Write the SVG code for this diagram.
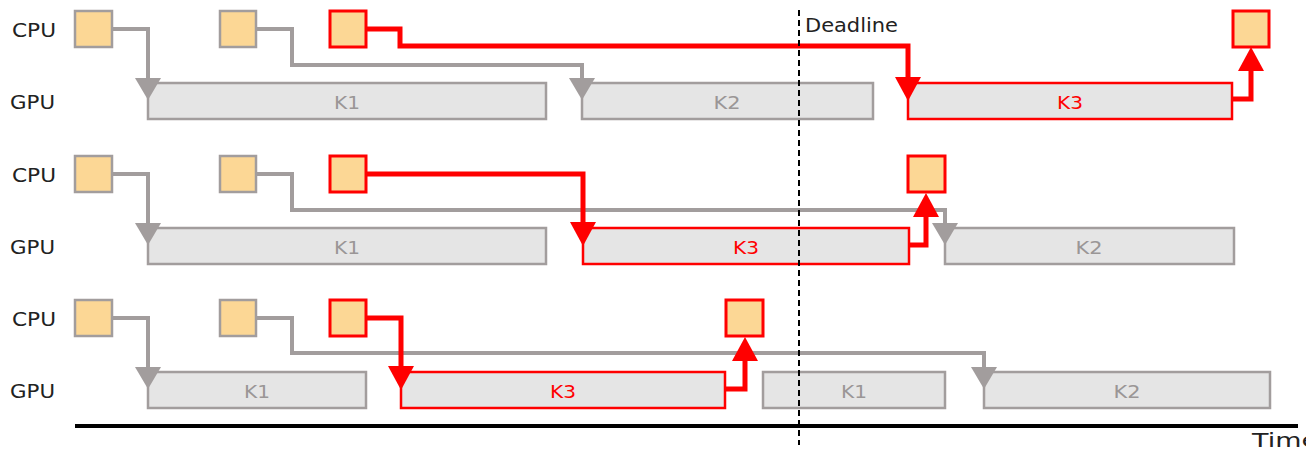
<svg xmlns="http://www.w3.org/2000/svg" width="1306" height="450" viewBox="0 0 1306 450">
<style>
text{font-family:"DejaVu Sans","Liberation Sans",sans-serif}
.lbl{font-size:19px;fill:#222}
.kt{font-size:18px;fill:#9a9696;text-anchor:middle}
.kr{font-size:18px;fill:#ff0000;text-anchor:middle}
.cpu{fill:#fcd795;stroke:#a29d9d;stroke-width:2.5}
.cpur{fill:#fcd795;stroke:#ff0000;stroke-width:3}
.gpu{fill:#e5e5e5;stroke:#a29d9d;stroke-width:2.5}
.gpur{fill:#e5e5e5;stroke:#ff0000;stroke-width:2.5}
.cg{fill:none;stroke:#a29d9d;stroke-width:4;marker-end:url(#ag)}
.cr{fill:none;stroke:#ff0000;stroke-width:5;marker-end:url(#ar)}
</style>
<defs>
<marker id="ag" markerUnits="userSpaceOnUse" markerWidth="22" markerHeight="26" refX="14" refY="13" orient="auto"><path d="M0,0 L22,13 L0,26 Z" fill="#a29d9d"/></marker>
<marker id="ar" markerUnits="userSpaceOnUse" markerWidth="24" markerHeight="26" refX="16" refY="13" orient="auto"><path d="M0,0 L24,13 L0,26 Z" fill="#ff0000"/></marker>
</defs>
<g id="labels">
<text class="lbl" x="12" y="37" textLength="44" lengthAdjust="spacingAndGlyphs">CPU</text>
<text class="lbl" x="10" y="109" textLength="45" lengthAdjust="spacingAndGlyphs">GPU</text>
<text class="lbl" x="12" y="182" textLength="44" lengthAdjust="spacingAndGlyphs">CPU</text>
<text class="lbl" x="10" y="254" textLength="45" lengthAdjust="spacingAndGlyphs">GPU</text>
<text class="lbl" x="12" y="326" textLength="44" lengthAdjust="spacingAndGlyphs">CPU</text>
<text class="lbl" x="10" y="398" textLength="45" lengthAdjust="spacingAndGlyphs">GPU</text>
</g>
<g id="row1">
<rect id="r1c1" class="cpu" x="75" y="11" width="37" height="36"/>
<rect id="r1c2" class="cpu" x="220" y="11" width="36" height="36"/>
<rect id="r1c3" class="cpur" x="330" y="11" width="36" height="36"/>
<rect id="r1c4" class="cpur" x="1233" y="11" width="36" height="36"/>
<g id="r1k1"><rect class="gpu" x="148" y="83" width="398" height="36"/><text class="kt" x="347" y="109" textLength="26" lengthAdjust="spacingAndGlyphs">K1</text></g>
<g id="r1k2"><rect class="gpu" x="582" y="83" width="291" height="36"/><text class="kt" x="727" y="109" textLength="27" lengthAdjust="spacingAndGlyphs">K2</text></g>
<g id="r1k3"><rect class="gpur" x="908" y="83" width="324" height="36"/><text class="kr" x="1070" y="109" textLength="26" lengthAdjust="spacingAndGlyphs">K3</text></g>
</g>
<g id="row2">
<rect id="r2c1" class="cpu" x="75" y="156" width="37" height="36"/>
<rect id="r2c2" class="cpu" x="220" y="156" width="36" height="36"/>
<rect id="r2c3" class="cpur" x="330" y="156" width="36" height="36"/>
<rect id="r2c4" class="cpur" x="908" y="156" width="37" height="36"/>
<g id="r2k1"><rect class="gpu" x="148" y="228" width="398" height="36"/><text class="kt" x="347" y="254" textLength="26" lengthAdjust="spacingAndGlyphs">K1</text></g>
<g id="r2k3"><rect class="gpur" x="583" y="228" width="326" height="36"/><text class="kr" x="746" y="254" textLength="26" lengthAdjust="spacingAndGlyphs">K3</text></g>
<g id="r2k2"><rect class="gpu" x="945" y="228" width="289" height="36"/><text class="kt" x="1089" y="254" textLength="27" lengthAdjust="spacingAndGlyphs">K2</text></g>
</g>
<g id="row3">
<rect id="r3c1" class="cpu" x="75" y="300" width="37" height="36"/>
<rect id="r3c2" class="cpu" x="220" y="300" width="36" height="36"/>
<rect id="r3c3" class="cpur" x="330" y="300" width="36" height="36"/>
<rect id="r3c4" class="cpur" x="726" y="300" width="37" height="36"/>
<g id="r3k1"><rect class="gpu" x="148" y="372" width="218" height="36"/><text class="kt" x="257" y="398" textLength="26" lengthAdjust="spacingAndGlyphs">K1</text></g>
<g id="r3k3"><rect class="gpur" x="401" y="372" width="324" height="36"/><text class="kr" x="563" y="398" textLength="26" lengthAdjust="spacingAndGlyphs">K3</text></g>
<g id="r3k1b"><rect class="gpu" x="763" y="372" width="182" height="36"/><text class="kt" x="854" y="398" textLength="26" lengthAdjust="spacingAndGlyphs">K1</text></g>
<g id="r3k2"><rect class="gpu" x="984" y="372" width="286" height="36"/><text class="kt" x="1127" y="398" textLength="27" lengthAdjust="spacingAndGlyphs">K2</text></g>
</g>
<g id="connectors">
<path class="cg" d="M112,29 H148 V92"/>
<path class="cg" d="M256,29 H292 V65 H582 V92"/>
<path class="cg" d="M112,174 H148 V237"/>
<path class="cg" d="M256,174 H292 V210 H945 V237"/>
<path class="cg" d="M112,318 H148 V381"/>
<path class="cg" d="M256,318 H292 V353 H984 V381"/>
<path class="cr" d="M366,29 H400 V46 H908 V93"/>
<path class="cr" d="M1232,99 H1251 V55"/>
<path class="cr" d="M366,174 H583 V238"/>
<path class="cr" d="M909,245 H926 V201"/>
<path class="cr" d="M366,318 H401 V382"/>
<path class="cr" d="M725,389 H745 V345"/>
</g>
<g id="axis">
<path d="M75,426 H1298" stroke="#000" stroke-width="4"/>
<text class="lbl" x="1252" y="447" textLength="66" lengthAdjust="spacingAndGlyphs">Time</text>
</g>
<g id="deadline">
<path d="M799,10 V445" stroke="#000" stroke-width="2" stroke-dasharray="6,4"/>
<text class="lbl" x="805" y="32" textLength="93" lengthAdjust="spacingAndGlyphs">Deadline</text>
</g>
</svg>
